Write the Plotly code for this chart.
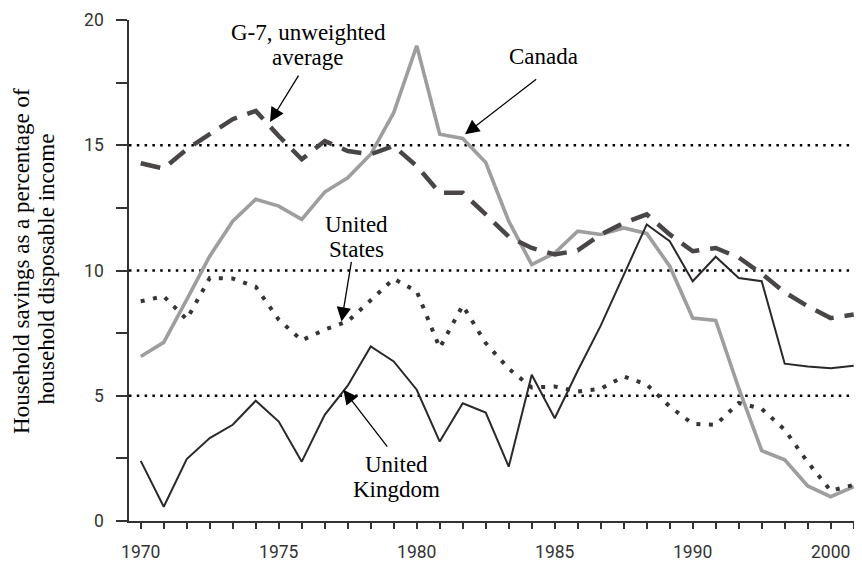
import plotly.graph_objects as go

years = list(range(1970, 2002))

canada = [6.57, 7.13, 8.84, 10.57, 11.97, 12.84, 12.57, 12.04, 13.13, 13.70,
          14.64, 16.30, 18.97, 15.44, 15.27, 14.31, 11.97, 10.24, 10.70, 11.57,
          11.44, 11.70, 11.48, 10.17, 8.10, 8.01, 5.30, 2.81, 2.44, 1.40,
          0.97, 1.37]

g7_average = [14.28, 14.07, 14.84, 15.44, 16.04, 16.37, 15.37, 14.44, 15.17, 14.77,
              14.64, 14.97, 14.17, 13.10, 13.10, 12.24, 11.35, 10.90, 10.64, 10.80,
              11.44, 11.90, 12.24, 11.44, 10.77, 10.90, 10.52, 9.87, 9.13, 8.57,
              8.10, 8.24]

united_states = [8.77, 8.97, 8.05, 9.70, 9.68, 9.35, 8.04, 7.21, 7.64, 7.97,
                 8.81, 9.67, 9.17, 6.91, 8.60, 7.10, 6.08, 5.33, 5.37, 5.17,
                 5.28, 5.77, 5.45, 4.57, 3.88, 3.84, 4.71, 4.48, 3.64, 2.35,
                 1.21, 1.44]

united_kingdom = [2.40, 0.57, 2.47, 3.31, 3.84, 4.80, 3.97, 2.37, 4.24, 5.40,
                  6.97, 6.37, 5.24, 3.17, 4.70, 4.33, 2.17, 5.84, 4.10, 6.00,
                  7.80, 9.80, 11.84, 11.17, 9.57, 10.55, 9.70, 9.57, 6.28, 6.17,
                  6.10, 6.20]

tick_years = [1970, 1976, 1982, 1988, 1994, 2000]
tick_labels = ["1970", "1975", "1980", "1985", "1990", "2000"]
grid_values = [5, 10, 15]

serif = "Liberation Serif"
axis_color = "#333333"

fig = go.Figure()

fig.add_trace(go.Scatter(x=years, y=canada, mode="lines", name="Canada",
                         line=dict(color="#9e9e9e", width=3.6)))
fig.add_trace(go.Scatter(x=years, y=g7_average, mode="lines", name="G-7, unweighted average",
                         line=dict(color="#4a4646", width=4.5, dash="20px,11px")))
fig.add_trace(go.Scatter(x=years, y=united_states, mode="lines", name="United States",
                         line=dict(color="#393434", width=4, dash="4px,8.5px")))
fig.add_trace(go.Scatter(x=years, y=united_kingdom, mode="lines", name="United Kingdom",
                         line=dict(color="#2c2828", width=2)))

for g in grid_values:
    fig.add_shape(type="line", xref="paper", x0=0, x1=1, yref="y", y0=g, y1=g,
                  line=dict(color="black", width=2.5, dash="2.5px,5.3px"), layer="below")

text_font = dict(family=serif, size=23, color="black")

labels = [
    ("G-7, unweighted", 1977.30, 19.52),
    ("average", 1977.28, 18.52),
    ("Canada", 1987.53, 18.56),
    ("United", 1979.38, 11.84),
    ("States", 1979.38, 10.84),
    ("United", 1981.10, 2.25),
    ("Kingdom", 1981.11, 1.25),
]
for txt, x, y in labels:
    fig.add_annotation(x=x, y=y, xref="x", yref="y", text=txt, showarrow=False,
                       xanchor="center", yanchor="middle", font=text_font)

arrows = [
    (1975.62, 15.93, 1976.90, 17.84),
    (1984.10, 15.44, 1987.26, 17.68),
    (1978.73, 7.96, 1979.17, 10.40),
    (1978.81, 5.24, 1980.77, 2.91),
]
for x, y, ax, ay in arrows:
    fig.add_annotation(x=x, y=y, ax=ax, ay=ay, xref="x", yref="y", axref="x", ayref="y",
                       text="", showarrow=True, arrowhead=2, arrowsize=2.2,
                       arrowwidth=1.3, arrowcolor="black", standoff=0, startstandoff=0)

fig.add_annotation(x=-0.1466, y=0.519, xref="paper", yref="paper",
                   text="Household savings as a percentage of", textangle=-90,
                   showarrow=False, xanchor="center", yanchor="middle", font=text_font)
fig.add_annotation(x=-0.1130, y=0.503, xref="paper", yref="paper",
                   text="household disposable income", textangle=-90,
                   showarrow=False, xanchor="center", yanchor="middle", font=text_font)

# page body has an 8px default margin, so the figure is shrunk and shifted accordingly
fig.update_layout(
    width=854, height=555,
    margin=dict(l=121, r=3, t=12, b=42),
    plot_bgcolor="white", paper_bgcolor="white",
    showlegend=False,
    font=dict(family="Roboto", size=17.5, color=axis_color),
)

fig.update_xaxes(
    range=[1969.49, 2001.23],
    tickvals=tick_years, ticktext=tick_labels,
    ticks="outside", ticklen=6, tickwidth=1.5, tickcolor=axis_color,
    showline=True, linecolor=axis_color, linewidth=1.5,
    showgrid=False, zeroline=False, automargin=False,
    ticklabelstandoff=8,
    minor=dict(ticks="outside", ticklen=6, tickwidth=1.5, tickcolor=axis_color,
               dtick=1, tick0=1970, showgrid=False),
)
fig.update_yaxes(
    range=[0, 20], tick0=0, dtick=5,
    ticks="outside", ticklen=11, tickwidth=1.5, tickcolor=axis_color,
    showline=True, linecolor=axis_color, linewidth=1.5,
    showgrid=False, zeroline=False, automargin=False,
    ticklabelstandoff=9,
    minor=dict(ticks="outside", ticklen=11, tickwidth=1.5, tickcolor=axis_color,
               dtick=2.5, tick0=0, showgrid=False),
)

fig.write_html("out.html")
